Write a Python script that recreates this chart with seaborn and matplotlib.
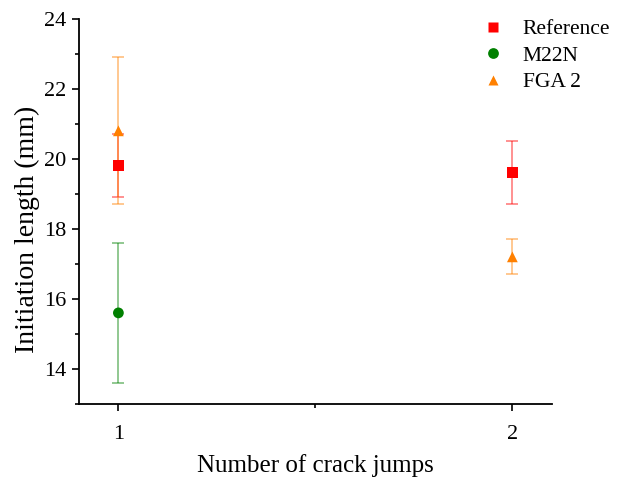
import matplotlib
matplotlib.use("Agg")
import matplotlib.pyplot as plt
import seaborn as sns
import pandas as pd
from matplotlib.ticker import MultipleLocator

# Initiation length vs number of crack jumps
series = ["Reference", "M22N", "FGA 2"]
ref_x = [1, 2]
ref_y = [19.8, 19.6]
ref_err = [0.9, 0.9]
m22n_x = [1]
m22n_y = [15.6]
m22n_err = [2.0]
fga_x = [1, 2]
fga_y = [20.8, 17.2]
fga_err = [2.1, 0.5]

colors = {"Reference": "#FF0000", "M22N": "#008000", "FGA 2": "#FF8000"}
markers = {"Reference": "s", "M22N": "o", "FGA 2": "^"}

df = pd.concat([
    pd.DataFrame({"jumps": ref_x, "length": ref_y, "err": ref_err, "series": "Reference"}),
    pd.DataFrame({"jumps": m22n_x, "length": m22n_y, "err": m22n_err, "series": "M22N"}),
    pd.DataFrame({"jumps": fga_x, "length": fga_y, "err": fga_err, "series": "FGA 2"}),
], ignore_index=True)

sns.set_style("ticks")
plt.rcParams["font.family"] = ["Liberation Serif", "DejaVu Serif"]
plt.rcParams["text.color"] = "black"
plt.rcParams["axes.labelcolor"] = "black"

fig = plt.figure(figsize=(6.27, 4.82), dpi=100)
ax = fig.add_axes([0.126, 0.162, 0.754, 0.799])

for name in series:
    sub = df[df["series"] == name]
    ax.errorbar(sub["jumps"], sub["length"], yerr=sub["err"], fmt="none",
                ecolor=colors[name], alpha=0.55, elinewidth=1.1, capsize=4,
                capthick=1.1, zorder=2)

sns.scatterplot(data=df, x="jumps", y="length", hue="series", style="series",
                hue_order=series, style_order=series, palette=colors,
                markers=markers, s=60, edgecolor="none", ax=ax, zorder=3)

ax.set_xlim(0.9, 2.1)
ax.set_ylim(13, 24)
ax.xaxis.set_major_locator(MultipleLocator(1))
ax.xaxis.set_minor_locator(MultipleLocator(0.5))
ax.yaxis.set_major_locator(MultipleLocator(2))
ax.yaxis.set_minor_locator(MultipleLocator(1))
ax.tick_params(axis="both", which="major", direction="out", length=5, width=1.2,
               labelsize=16, colors="black")
ax.tick_params(axis="x", which="major", pad=10)
ax.tick_params(axis="y", which="major", pad=4)
ax.tick_params(axis="both", which="minor", direction="out", length=3, width=1.2,
               colors="black")
for side in ["top", "right"]:
    ax.spines[side].set_visible(False)
for side in ["left", "bottom"]:
    ax.spines[side].set_linewidth(1.3)
    ax.spines[side].set_color("black")

ax.set_xlabel("Number of crack jumps", fontsize=18, color="black")
ax.set_ylabel("Initiation length (mm)", fontsize=20, color="black")
ax.xaxis.set_label_coords(0.5, -0.13)
ax.yaxis.set_label_coords(-0.082, 0.452)

ax.legend(loc="upper left", frameon=False, fontsize=15.5, markerscale=1.0,
          bbox_to_anchor=(471 / 627, 1 - 19 / 482), bbox_transform=fig.transFigure,
          borderpad=0, borderaxespad=0, handletextpad=0.4, labelspacing=0.3,
          labelcolor="black")

fig.savefig("out.png", dpi=100)
